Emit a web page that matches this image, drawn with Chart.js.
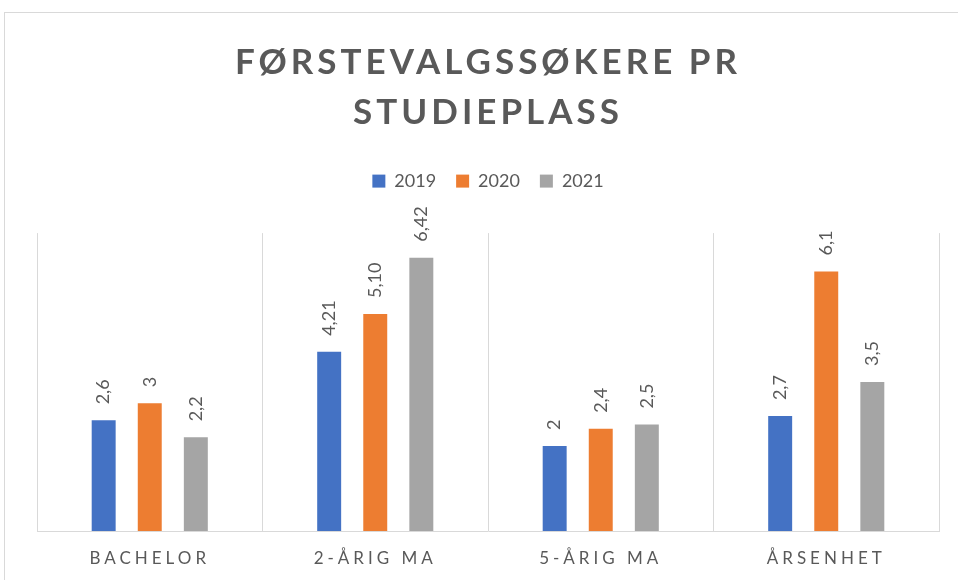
<!DOCTYPE html>
<html>
<head>
<meta charset="utf-8">
<script src="https://cdn.jsdelivr.net/npm/chart.js@4"></script>
<style>
  html, body { margin: 0; padding: 0; background: #fff; overflow: hidden; }
  #frame { position: absolute; left: 4px; top: 12px; width: 1000px; height: 620px; border: 1px solid #d9d9d9; }
  #wrap { position: absolute; left: 0; top: 0; width: 958px; height: 580px; }
</style>
</head>
<body>
<div id="frame"></div>
<div id="wrap"><canvas id="chart" width="958" height="580"></canvas></div>
<script>
// data
const categories = ["BACHELOR", "2-ÅRIG MA", "5-ÅRIG MA", "ÅRSENHET"];
const seriesNames = ["2019", "2020", "2021"];
const values2019 = [2.6, 4.21, 2, 2.7];
const values2020 = [3, 5.10, 2.4, 6.1];
const values2021 = [2.2, 6.42, 2.5, 3.5];
const labelDecimals = [null, 2, null, null]; // 2-årig MA shown with two decimals
const yRange = [0, 7];

const colors = ["#4472C4", "#ED7D31", "#A5A5A5"];
const textColor = "#595959";
const font = "Lato";

// letter spacing for title + axis labels (canvas letterSpacing)
function spaced(obj, method, spacing) {
  if (!obj || obj["_sp_" + method]) return;
  const orig = obj[method];
  obj[method] = function (...args) {
    const ctx = this.ctx;
    ctx.save();
    ctx.letterSpacing = spacing;
    const r = orig.apply(this, args);
    ctx.restore();
    return r;
  };
  obj["_sp_" + method] = true;
}

const letterSpacing = {
  id: "letterSpacing",
  afterLayout(chart) {
    spaced(chart.titleBlock, "draw", "4px");
    spaced(chart.scales.x, "drawLabels", "4px");
  }
};

// rotated value labels above the bars
const barLabels = {
  id: "barLabels",
  afterDatasetsDraw(chart) {
    const ctx = chart.ctx;
    ctx.save();
    ctx.font = "18px " + font;
    ctx.fillStyle = textColor;
    ctx.textAlign = "left";
    ctx.textBaseline = "middle";
    chart.data.datasets.forEach((ds, di) => {
      chart.getDatasetMeta(di).data.forEach((bar, i) => {
        const v = ds.data[i];
        const d = labelDecimals[i];
        const txt = (d == null ? String(v) : v.toFixed(d)).replace(".", ",");
        ctx.save();
        ctx.translate(bar.x, bar.y - 16);
        ctx.rotate(-Math.PI / 2);
        ctx.fillText(txt, 0, 0);
        ctx.restore();
      });
    });
    ctx.restore();
  }
};

new Chart(document.getElementById("chart"), {
  type: "bar",
  data: {
    labels: categories,
    datasets: [values2019, values2020, values2021].map((vals, i) => ({
      label: seriesNames[i],
      data: vals,
      backgroundColor: colors[i],
      categoryPercentage: 0.613,
      barPercentage: 0.52
    }))
  },
  options: {
    responsive: false,
    animation: false,
    layout: { padding: { left: 37, right: 19, top: 8, bottom: 0 } },
    plugins: {
      title: {
        display: true,
        text: ["FØRSTEVALGSSØKERE PR", "STUDIEPLASS"],
        color: textColor,
        font: { family: font, size: 35, weight: "bold", lineHeight: 1.43 },
        padding: { top: 30, bottom: 14 }
      },
      legend: {
        position: "top",
        labels: {
          boxWidth: 13,
          boxHeight: 13,
          color: textColor,
          font: { family: font, size: 18 },
          padding: 20
        }
      },
      // empty block used as spacing between legend and plot
      subtitle: {
        display: true,
        text: "",
        weight: 500,
        padding: 0,
        font: { size: 33, lineHeight: 1 }
      },
      tooltip: { enabled: false }
    },
    scales: {
      x: {
        grid: { offset: true, color: "#d9d9d9", drawTicks: false },
        border: { color: "#d9d9d9" },
        ticks: { color: textColor, font: { family: font, size: 17, lineHeight: 1.2 }, padding: 17, maxRotation: 0 },
        afterFit: (scale) => { scale.height = 49; }
      },
      y: { display: false, min: yRange[0], max: yRange[1] }
    }
  },
  plugins: [letterSpacing, barLabels]
});
</script>
</body>
</html>
